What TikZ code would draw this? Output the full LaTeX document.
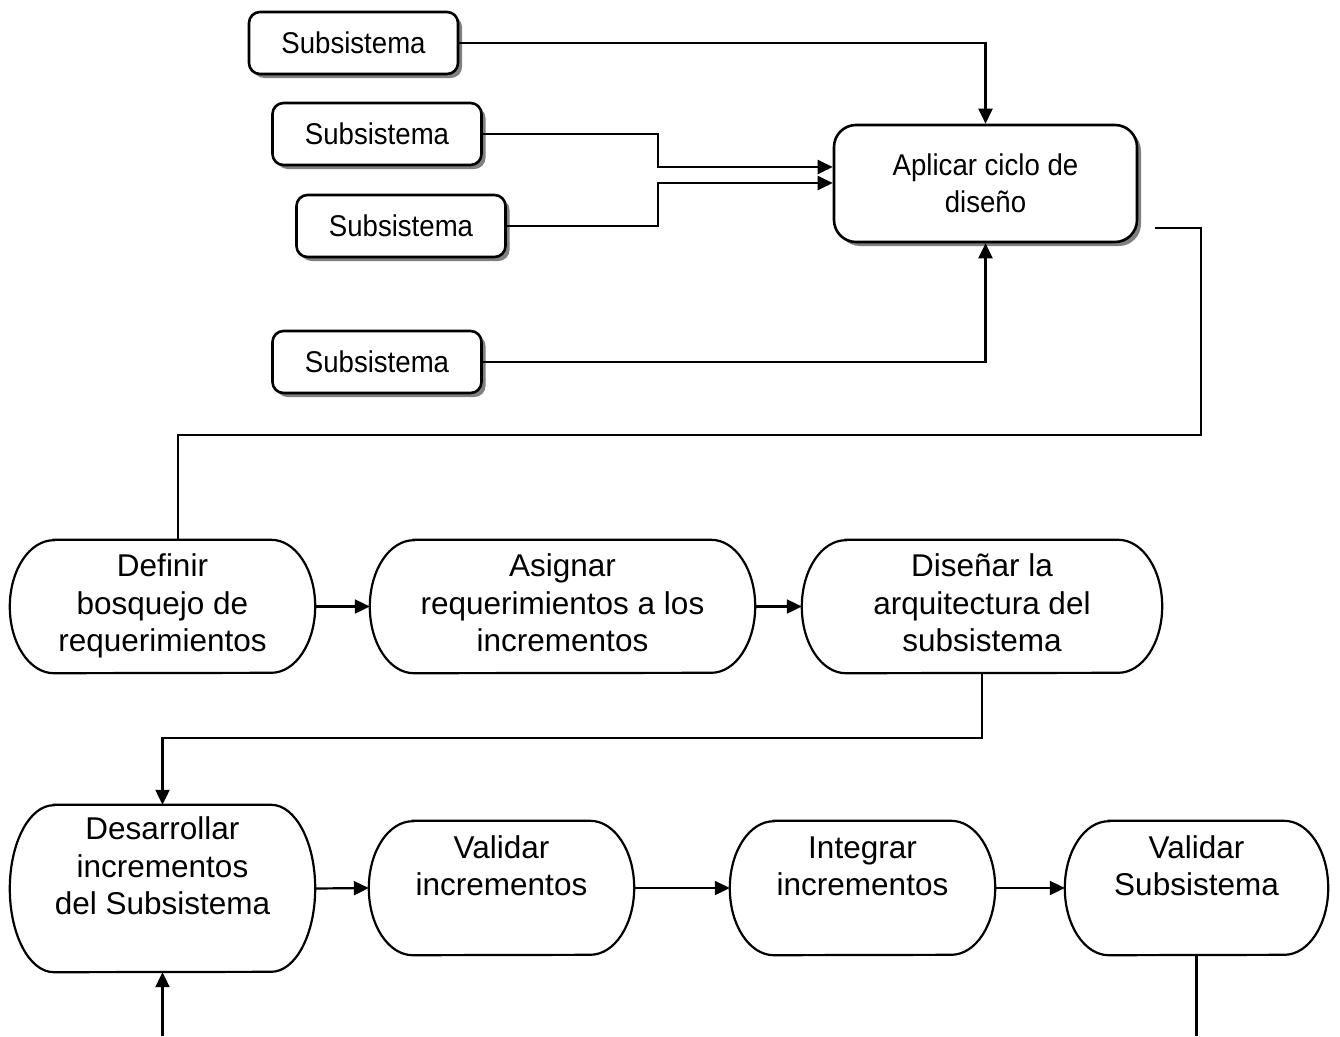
\documentclass[tikz,border=0pt]{standalone}
\usepackage{fontspec}
\setmainfont{Liberation Sans}
\newfontfamily\narrowfont[FakeStretch=0.92]{Liberation Sans}
\usetikzlibrary{arrows.meta,shadows}

\begin{document}
\begin{tikzpicture}[x=1pt,y=-1pt,
  subbox/.style={draw,line width=2.6pt,rounded corners=11pt,fill=white,
    minimum width=209pt,minimum height=62pt,inner sep=0pt,
    font=\narrowfont\fontsize{30}{37}\selectfont,
    drop shadow={shadow xshift=4pt,shadow yshift=-4pt,fill=black!50,opacity=1}},
  cyclebox/.style={subbox,rounded corners=22pt,minimum width=303pt,minimum height=117pt,align=center},
  stagebox/.style={draw=none,inner sep=0pt,align=center,
    font=\fontsize{31.5}{37.5}\selectfont},
  outline/.style={line width=2.2pt},
  link/.style={line width=2.2pt},
  arr/.style={link,-{Triangle[length=15pt,width=14pt]}}]

\useasboundingbox (0,0) rectangle (1340,1036);

% upper part: subsystems feeding the design cycle
\node[subbox] (s1) at (353.5,43) {Subsistema};
\node[subbox] (s2) at (377,134) {Subsistema};
\node[subbox] (s3) at (401,226) {Subsistema};
\node[subbox] (s4) at (377,362) {Subsistema};
\node[cyclebox] (apl) at (985.5,183.5) {Aplicar ciclo de\\diseño};

% process stages
\node[stagebox,minimum width=305pt,minimum height=133pt] (def) at (162.5,606.5)
  {Definir\strut\\bosquejo de\strut\\requerimientos\strut};
\node[stagebox,minimum width=385pt,minimum height=133pt] (asg) at (562.5,606.5)
  {Asignar\strut\\requerimientos a los\strut\\incrementos\strut};
\node[stagebox,minimum width=360pt,minimum height=133pt] (dis) at (982,606.5)
  {Diseñar la\strut\\arquitectura del\strut\\subsistema\strut};
\node[stagebox,minimum width=305pt,minimum height=167pt] (dsr) at (162.5,888.5)
  {Desarrollar\strut\\incrementos\strut\\del Subsistema\strut\\\strut};
\node[stagebox,minimum width=265pt,minimum height=134pt] (vin) at (501.5,888)
  {Validar\strut\\incrementos\strut\\\strut};
\node[stagebox,minimum width=265pt,minimum height=134pt] (int) at (862.5,888)
  {Integrar\strut\\incrementos\strut\\\strut};
\node[stagebox,minimum width=263pt,minimum height=134pt] (vsu) at (1196.5,888)
  {Validar\strut\\Subsistema\strut\\\strut};

% stadium outlines of the stages
\foreach \n/\ry in {def/66.5,asg/66.5,dis/66.5,dsr/83.5,vin/67,int/67,vsu/67}{
  \draw[outline] ([xshift=44pt]\n.north west) -- ([xshift=-44pt]\n.north east)
    arc[start angle=90,end angle=-90,x radius=44pt,y radius=\ry pt]
    -- ([xshift=44pt]\n.south west)
    arc[start angle=270,end angle=90,x radius=44pt,y radius=\ry pt] -- cycle;
}

% junction points of the routed connectors
\coordinate (j2) at (658,167);
\coordinate (j3) at (658,183);
\coordinate (o1) at (1155,228);
\coordinate (o2) at (1201,435);
\coordinate (y3) at (0,738);
\coordinate (bot) at (163,1036);

% connectors
\draw[arr] (s1.east) -| (apl.north);
\draw[arr] (s2.east) -| (j2) -- (j2 -| apl.west);
\draw[arr] (s3.east) -| (j3) -- (j3 -| apl.west);
\draw[arr] (s4.east) -| (apl.south);
\draw[link] (o1) -| (o2) -| ([xshift=15.5pt]def.north);

\draw[arr] (def.east) -- (asg.west);
\draw[arr] (asg.east) -- (dis.west);
\draw[arr] (dis.south) -- (dis.south |- y3) -| (dsr.north);

\draw[arr] (dsr.east) -- (vin.west);
\draw[arr] (vin.east) -- (int.west);
\draw[arr] (int.east) -- (vsu.west);
\draw[arr] (dsr.south |- bot) -- (dsr.south);
\draw[link] (vsu.south) -- (vsu.south |- bot);
\end{tikzpicture}
\end{document}
